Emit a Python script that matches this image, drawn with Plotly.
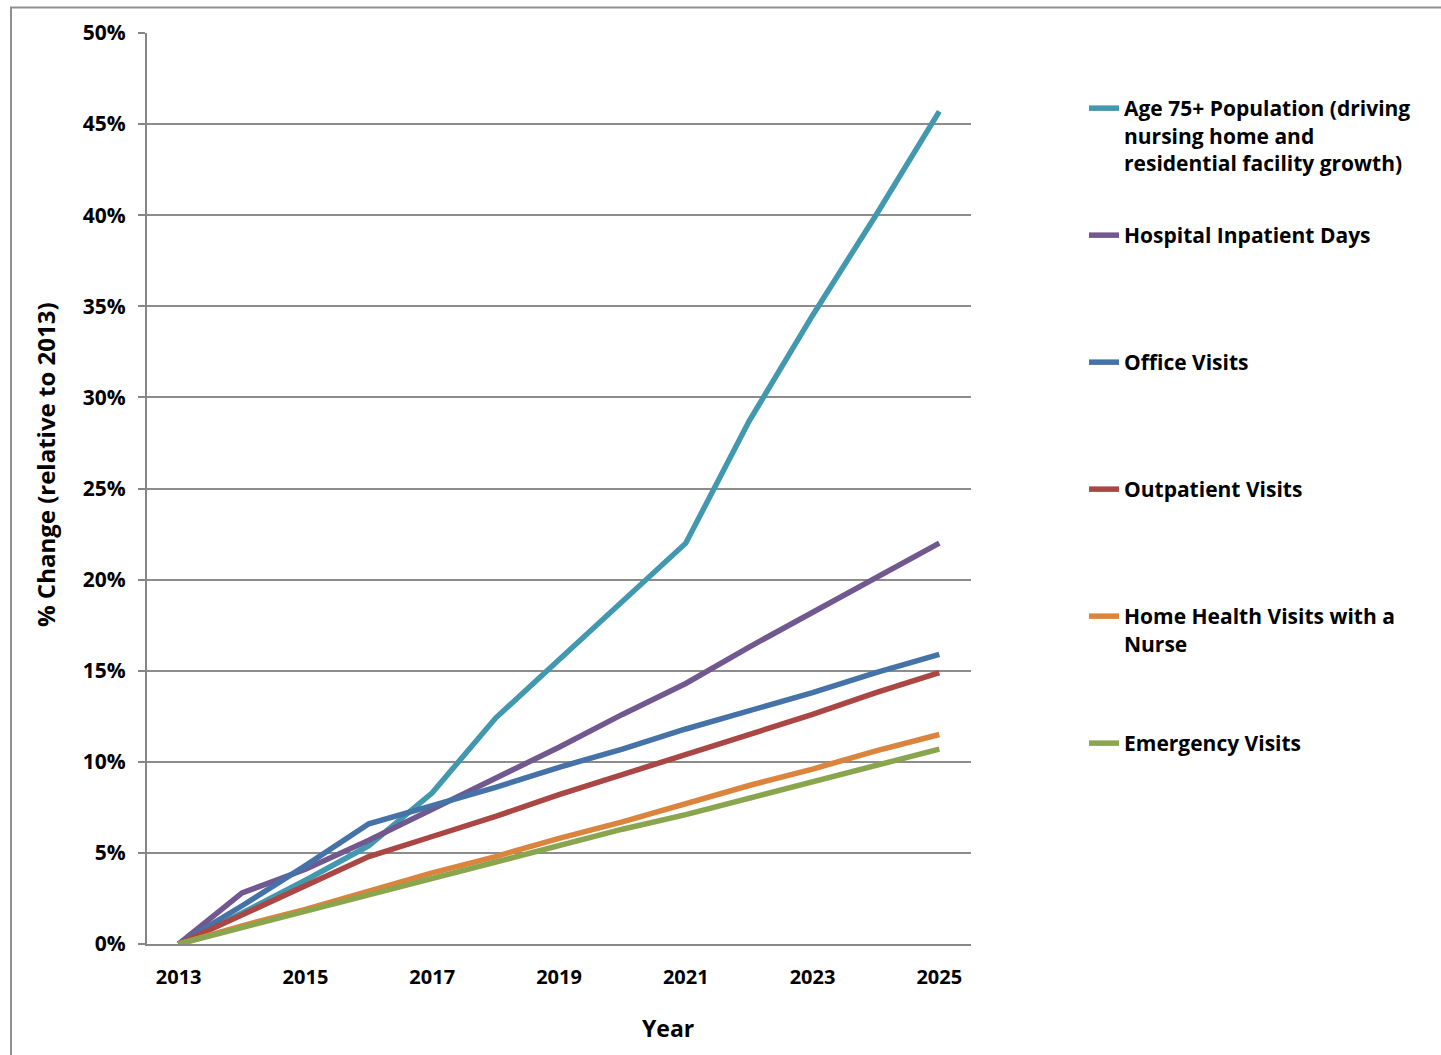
import plotly.graph_objects as go

# Projected growth in health care utilisation, % change relative to 2013
years = list(range(2013, 2026))

age75 = [0, 1.7, 3.5, 5.4, 8.3, 12.4, 15.6, 18.8, 22.0, 28.7, 34.5, 40.0, 45.7]
inpatient_days = [0, 2.8, 4.1, 5.7, 7.4, 9.1, 10.8, 12.6, 14.3, 16.3, 18.2, 20.1, 22.0]
office_visits = [0, 2.1, 4.3, 6.6, 7.6, 8.6, 9.7, 10.7, 11.8, 12.8, 13.8, 14.9, 15.9]
outpatient_visits = [0, 1.6, 3.2, 4.8, 5.9, 7.0, 8.2, 9.3, 10.4, 11.5, 12.6, 13.8, 14.9]
home_health_visits = [0, 1.0, 1.9, 2.9, 3.9, 4.8, 5.8, 6.7, 7.7, 8.7, 9.6, 10.6, 11.5]
emergency_visits = [0, 0.9, 1.8, 2.7, 3.6, 4.5, 5.4, 6.3, 7.1, 8.0, 8.9, 9.8, 10.7]

series_names = [
    "Age 75+ Population (driving<br>nursing home and<br>residential facility growth)",
    "Hospital Inpatient Days",
    "Office Visits",
    "Outpatient Visits",
    "Home Health Visits with a<br>Nurse",
    "Emergency Visits",
]
series_values = [age75, inpatient_days, office_visits, outpatient_visits,
                 home_health_visits, emergency_visits]
series_colors = ["#4198AF", "#71588F", "#4572A7", "#AA4643", "#DB843D", "#89A54E"]

# pixel geometry of the plotting area
W, H = 1441, 1055
PL, PR, PT, PB = 147, 971, 33, 944
pw, ph = PR - PL, PB - PT


def px_x(x):
    return (x - PL) / pw


def px_y(y):
    return (PB - y) / ph


FONT = "'Open Sans', Lato, sans-serif"

fig = go.Figure()
legend_ids = ["legend", "legend2", "legend3", "legend4", "legend5", "legend6"]
for name, vals, col, lid in zip(series_names, series_values, series_colors, legend_ids):
    fig.add_trace(go.Scatter(
        x=years, y=vals, name=name, mode="lines",
        line=dict(color=col, width=5.5),
        legend=lid,
    ))

# one legend box per series, spaced evenly down the right side
first_line_centres = [108, 235, 362, 489, 616, 743]
legend_layout = {}
for lid, c in zip(legend_ids, first_line_centres):
    legend_layout[lid] = dict(
        x=px_x(1084), xanchor="left",
        y=px_y(c - 20), yanchor="top",
        valign="top",
        font=dict(family=FONT, size=21, color="#000000", weight="bold"),
        bgcolor="rgba(0,0,0,0)", borderwidth=0,
        itemclick=False, itemdoubleclick=False,
    )

fig.update_layout(
    width=W, height=H,
    margin=dict(l=PL, r=W - PR, t=PT, b=H - PB, autoexpand=False),
    paper_bgcolor="white", plot_bgcolor="white",
    showlegend=True,
    **legend_layout,
    xaxis=dict(
        range=[2012.5, 2025.5], tick0=2013, dtick=2, tickmode="linear",
        showgrid=False, zeroline=False,
        showline=True, linecolor="#868686", linewidth=2,
        ticks="", ticklabelstandoff=14,
        tickfont=dict(family=FONT, size=20, color="#000000", weight="bold"),
    ),
    yaxis=dict(
        range=[0, 50], tick0=0, dtick=5, ticksuffix="%",
        showgrid=True, gridcolor="#8c8c8c", gridwidth=1.5,
        zeroline=False,
        showline=True, linecolor="#868686", linewidth=2,
        ticks="outside", ticklen=7, tickwidth=2, tickcolor="#868686",
        ticklabelstandoff=8,
        tickfont=dict(family=FONT, size=21, color="#000000", weight="bold"),
    ),
    shapes=[dict(
        type="rect", xref="paper", yref="paper",
        x0=px_x(11), x1=px_x(W + 10), y0=px_y(H + 10), y1=px_y(7.5),
        line=dict(color="#8f8f8f", width=2), fillcolor="rgba(0,0,0,0)",
        layer="below",
    )],
    annotations=[
        dict(text="% Change (relative to 2013)", textangle=-90,
             xref="paper", yref="paper", x=px_x(45), y=px_y(465),
             xanchor="center", yanchor="middle", showarrow=False,
             font=dict(family=FONT, size=24, color="#000000", weight="bold")),
        dict(text="Year", xref="paper", yref="paper",
             x=px_x(668), y=px_y(1028), xanchor="center", yanchor="middle",
             showarrow=False,
             font=dict(family=FONT, size=23, color="#000000", weight="bold")),
    ],
)

fig.write_html("out.html")
